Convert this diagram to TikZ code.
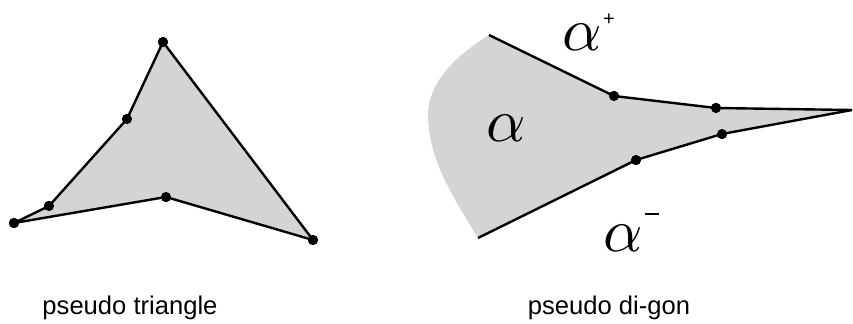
\documentclass[tikz,border=0pt]{standalone}
\usepackage{fontspec}
\setmainfont{Liberation Sans}
\begin{document}
\begin{tikzpicture}[x=0.75pt,y=-0.75pt,
  dotnode/.style={circle,fill=black,inner sep=0pt,minimum size=7.6pt},
  edge/.style={line width=1.8pt,line join=round},
  shade/.style={fill=black!17},
  caption/.style={font=\fontsize{19.2}{23}\selectfont,anchor=base},
  greek/.style={inner sep=0pt},
  sign/.style={font=\fontsize{15}{16}\selectfont,inner sep=0pt}]
\useasboundingbox (0,0) rectangle (853,324);
% pseudo triangle points
\node[dotnode] (t1) at (163,42) {};
\node[dotnode] (t2) at (127,119) {};
\node[dotnode] (t3) at (49,206) {};
\node[dotnode] (t4) at (14,223) {};
\node[dotnode] (t5) at (166,197) {};
\node[dotnode] (t6) at (313,240) {};
\fill[shade] (t1.center) -- (t2.center) -- (t3.center) -- (t4.center) -- (t5.center) -- (t6.center) -- cycle;
\draw[edge] (t1.center) -- (t2.center) -- (t3.center) -- (t4.center) -- (t5.center) -- (t6.center) -- (t1.center);
\foreach \n in {t1,t2,t3,t4,t5,t6} \fill (\n) circle (3.8pt);
% pseudo di-gon
\coordinate (pa) at (489,35);
\coordinate (pb) at (478,238);
\coordinate (tip) at (852,110);
\node[dotnode] (u1) at (614,96) {};
\node[dotnode] (u2) at (716,108) {};
\node[dotnode] (l1) at (636,160) {};
\node[dotnode] (l2) at (722,134) {};
\fill[shade] (pa) -- (u1.center) -- (u2.center) -- (tip) -- (l2.center) -- (l1.center) -- (pb)
  .. controls (455,200) and (428,160) .. (428,115)
  .. controls (428,85) and (452,58) .. (pa) -- cycle;
\draw[edge] (pa) -- (u1.center) -- (u2.center) -- (tip);
\draw[edge] (pb) -- (l1.center) -- (l2.center) -- (tip);
\foreach \n in {u1,u2,l1,l2} \fill (\n) circle (3.8pt);
% labels
\node[greek] (ap) at (582,37) {\scalebox{4.6}{$\alpha$}};
\node[sign] (plus) at (609,20) {+};
\node[greek] (am) at (506,128) {\scalebox{4.6}{$\alpha$}};
\node[greek] (an) at (623,238) {\scalebox{4.6}{$\alpha$}};
\node[sign] (minus) at (652,214) {\rule{11pt}{1.1pt}};
\node[caption] (c1) at (130,314) {pseudo triangle};
\node[caption] (c2) at (609,314) {pseudo di-gon};
\end{tikzpicture}
\end{document}
